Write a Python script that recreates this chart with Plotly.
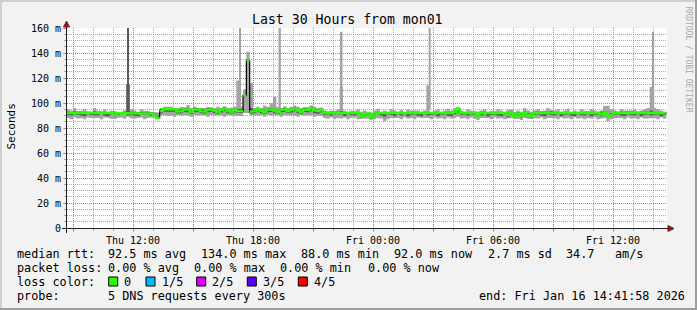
import plotly.graph_objects as go
import pandas as pd

# ---------------- data ----------------
START = "2026-01-15 08:41:58"
END = "2026-01-16 14:41:58"
STEP0 = "2026-01-15 08:40"
STEP_MIN = 10

median = [
    92, 92, 92, 91.5, 92, 92, 92, 92, 91.5, 92,
    92, 92, 92, 92, 90.5, 92, 92, 92, 92, 92,
    92, 92, 92, 92, 92, 91.5, 90, 88, 93.5, 95,
    95, 94.5, 95, 93, 93.5, 95, 94.5, 93, 94.5, 95,
    93.5, 93, 94.5, 95, 94, 93, 94.5, 95.5, 94, 93,
    94.5, 93.5, 93.5, 106, 134, 93, 93.5, 95, 94, 93,
    94.5, 95, 94, 93, 94.5, 95, 93.5, 94.5, 95.5, 94,
    93, 95, 94.5, 96, 94, 93.5, 94.5, 92, 92, 92,
    92, 92, 92, 92, 92, 92, 92, 92, 89.5, 91,
    92, 88.5, 90, 92, 92, 92, 92, 92, 92, 92,
    92, 92, 92, 92, 92, 92, 92, 92, 92, 92,
    92, 92, 92, 92, 92, 92, 93, 95, 92, 92,
    92, 92, 92, 89, 92, 92, 92, 92, 92, 92,
    92, 92, 90.5, 92, 90, 91.5, 89.5, 92, 90.5, 89.5,
    92, 92, 92, 92, 92, 92, 92, 92, 92, 92,
    92, 92, 92, 92, 92, 92, 92, 92, 92, 92,
    91, 92, 89, 90.5, 92, 92, 92, 92, 92, 92,
    92, 92, 92, 92, 92, 92, 92, 92, 92, 92,
]

ping_min = [
    88, 87, 88.5, 87.5, 88, 87, 88.5, 88, 87.5, 88,
    87, 88.5, 88, 87.5, 87, 88, 88.5, 87.5, 89, 88,
    87.5, 88, 88.5, 87, 88, 88.5, 88.5, 87.5, 90, 90.5,
    89.5, 90, 89, 90.5, 90, 89.5, 90, 89, 90.5, 90,
    89.5, 90, 89, 90.5, 90, 89.5, 90, 89, 90.5, 90,
    89.5, 90, 89.5, 92, 92, 90, 90, 89.5, 90, 89,
    90.5, 90, 89.5, 90, 89, 90.5, 90, 89.5, 90, 89,
    90.5, 90, 89.5, 90, 89, 90, 89.5, 88, 87.5, 88.5,
    87, 88, 87.5, 88.5, 87, 88, 88.5, 87, 87.5, 88,
    87.5, 86.5, 87, 88, 87.5, 85.5, 87, 88, 87.5, 88,
    87, 88.5, 87.5, 88, 87, 88.5, 88, 87.5, 88, 87,
    88.5, 87.5, 88, 87, 88.5, 87.5, 88, 89, 87.5, 88,
    87, 88.5, 87.5, 86.5, 88, 87.5, 88, 87, 88.5, 87.5,
    88, 87, 87.5, 88, 87, 87.5, 86.5, 88, 87.5, 87,
    88, 87.5, 88.5, 87, 88, 87.5, 88, 87, 88.5, 87.5,
    88, 87, 88.5, 87.5, 88, 87, 88, 87.5, 88.5, 87,
    87.5, 88, 85.5, 87, 88, 87.5, 88, 87, 88.5, 87.5,
    88, 87, 88.5, 87.5, 88, 87.5, 88, 87, 88.5, 87.5,
]

ping_lo = [
    90.5, 90, 91, 90.5, 90, 89.5, 91, 90.5, 90, 90,
    91.5, 90, 89.5, 91, 89.5, 90.5, 91, 91.5, 90, 90.5,
    90, 89.5, 91, 90.5, 91, 90, 89.5, 88, 92, 93,
    93, 92.5, 93, 91.5, 92, 93, 92.5, 91.5, 92.5, 93,
    92, 91.5, 92.5, 93, 92, 91.5, 92.5, 93.5, 92, 91.5,
    92.5, 92, 92, 105, 133, 91.5, 92, 93, 92, 91.5,
    92.5, 93, 92, 91.5, 92.5, 93, 92, 92.5, 93.5, 92,
    91.5, 93, 92.5, 93.5, 92, 91.5, 92.5, 90.5, 91, 90,
    91, 90.5, 91, 89.5, 91, 90.5, 90, 91, 88.5, 89.5,
    90.5, 87.5, 89, 91, 90, 89, 91, 90.5, 89.5, 91,
    90, 91, 89.5, 90.5, 91, 90, 89.5, 91, 90, 90.5,
    91, 89.5, 90.5, 91, 90, 89.5, 91, 92, 90.5, 91,
    90, 91, 90.5, 88, 90, 91, 89.5, 90.5, 91, 90,
    89.5, 91, 89, 90.5, 89, 90, 88.5, 90.5, 89.5, 88.5,
    90.5, 91, 90, 89.5, 91, 90.5, 90, 91, 89.5, 90.5,
    91, 90, 89.5, 91, 90.5, 90, 91, 89.5, 90.5, 91,
    89.5, 91, 88, 89.5, 90.5, 91, 90, 89.5, 91, 90.5,
    90, 91, 89.5, 90.5, 91, 90, 90.5, 91, 89.5, 90.5,
]

ping_hi = [
    93, 92.5, 93.5, 92.5, 93, 92.5, 92.5, 92.5, 93.5, 92.5,
    92.5, 93, 92.5, 92.5, 92, 92.5, 92.5, 93, 115, 93,
    92.5, 92.5, 93, 92.5, 92.5, 92.5, 91.5, 90, 95, 96,
    96, 95.5, 96, 94.5, 95, 96, 95.5, 94.5, 95.5, 96,
    95, 94.5, 95.5, 96, 95, 94.5, 95.5, 96.5, 95, 94.5,
    95.5, 95, 95, 107, 135, 96, 94.5, 96, 95, 94.5,
    95.5, 96, 95, 94.5, 95.5, 96, 94.5, 95.5, 96.5, 95,
    94.5, 96, 95.5, 97, 95, 94.5, 95.5, 93, 92.5, 93,
    92.5, 93, 93.5, 92.5, 93, 92.5, 93, 92.5, 91, 92,
    92.5, 90, 91.5, 92.5, 93, 92.5, 93, 92.5, 93, 92.5,
    93, 92.5, 92.5, 93, 92.5, 93, 92.5, 92.5, 93, 92.5,
    93, 92.5, 93, 92.5, 93, 92.5, 94, 96, 93, 92.5,
    92.5, 93, 92.5, 90.5, 93, 92.5, 93, 92.5, 93, 92.5,
    93, 92.5, 92, 93, 91.5, 92.5, 91, 93, 92, 91,
    93, 92.5, 93, 92.5, 93, 93.5, 92.5, 93, 92.5, 93,
    93, 92.5, 93, 92.5, 93, 92.5, 93, 92.5, 93, 92.5,
    92.5, 93, 90.5, 92, 93, 92.5, 93, 92.5, 93, 92.5,
    93, 92.5, 93, 92.5, 93, 94, 93, 92.5, 93, 92.5,
]

ping_max = [
    95, 94, 96, 93.5, 94, 95, 93.5, 93, 96, 94,
    93.5, 95, 93, 94, 93.5, 92.5, 93, 94, 115, 95,
    94, 93, 95, 94, 93.5, 93, 93, 92.5, 96, 97,
    96.5, 97, 96, 96, 97, 96.5, 98.5, 96, 97, 96,
    96.5, 96, 97, 96.5, 96, 97, 96, 97.5, 96, 96.5,
    97, 118, 97, 111, 141, 116, 96, 97, 96, 98,
    97, 100, 105, 97, 96, 97.5, 96, 97, 98, 97,
    96, 97, 96.5, 98, 97, 96, 96.5, 94, 93, 94,
    93.5, 95, 113, 94, 93, 94, 93.5, 95, 93, 94,
    93, 92.5, 94, 95.5, 93, 94, 93, 95, 94, 93,
    94.5, 93, 95, 94, 93.5, 94, 93, 94, 114, 93,
    94, 95, 93, 94, 95.5, 94, 96, 97, 94, 93,
    95, 94, 93.5, 93, 94, 95, 93, 94, 93.5, 95,
    94, 93, 94.5, 95, 93, 94, 93, 96, 94, 93,
    94, 95, 93.5, 94, 96, 94.5, 94, 95, 93, 94,
    95.5, 93, 94, 93, 95, 94, 93.5, 95, 94, 93,
    94, 97.5, 98, 95, 94, 93, 95, 94, 93.5, 94,
    95, 93, 94, 95, 96, 113, 96, 95, 94, 93,
]

spike_time = ["2026-01-15 11:46", "2026-01-15 17:21", "2026-01-15 19:20",
              "2026-01-15 22:26", "2026-01-16 02:50", "2026-01-16 14:01"]
spike_top = [165, 165, 165, 157, 165, 157]
spike_base = [95, 95, 95, 95, 95, 95]
spike_color = ["#585858", "#a4a4a4", "#a4a4a4", "#a4a4a4", "#a4a4a4", "#a4a4a4"]
spike_minutes = [3, 6, 7, 5, 6, 5]

y_tickvals = [0, 20, 40, 60, 80, 100, 120, 140, 160]
y_ticktext = ["0", "20 m", "40 m", "60 m", "80 m", "100 m", "120 m", "140 m", "160 m"]
x_tickvals = ["2026-01-15 09:00", "2026-01-15 12:00", "2026-01-15 15:00", "2026-01-15 18:00",
              "2026-01-15 21:00", "2026-01-16 00:00", "2026-01-16 03:00", "2026-01-16 06:00",
              "2026-01-16 09:00", "2026-01-16 12:00"]
x_ticktext = ["", "Thu 12:00", "", "Thu 18:00", "", "Fri 00:00", "", "Fri 06:00", "", "Fri 12:00"]

title_text = "Last 30 Hours from mon01"
ytitle_text = "Seconds"
watermark_text = "RRDTOOL / TOBI OETIKER"

legend_rows = [
    [("median rtt:", 16.3), ("92.5 ms avg", 107.3), ("134.0 ms max", 200.0), ("88.0 ms min", 300.0),
     ("92.0 ms now", 393.3), ("2.7 ms sd", 486.7), ("34.7", 564.5), ("am/s", 614.0)],
    [("packet loss:", 16.3), ("0.00 % avg", 107.3), ("0.00 % max", 193.3), ("0.00 % min", 279.3),
     ("0.00 % now", 366.7)],
    [("loss color:", 16.3)],
    [("probe:", 16.3), ("5 DNS requests every 300s", 107.3), ("end: Fri Jan 16 14:41:58 2026", 478.3)],
]
legend_row_y = [254.3, 268.3, 281.7, 296.0]
loss_labels = ["0", "1/5", "2/5", "3/5", "4/5"]
loss_colors = ["#26ff00", "#00b8ff", "#dd00ff", "#5e00ff", "#ff0000"]
loss_box_x = [108.7, 146.0, 196.7, 247.3, 298.3]
loss_label_x = [123.3, 160.7, 211.0, 262.0, 312.7]

# ---------------- styling ----------------
W, H = 697, 310
PL, PR, PT, PB = 67, 667, 28, 228
GRID = "rgba(143,143,143,0.75)"
MGRID = "rgba(222,79,79,0.6)"
FONT = "DejaVu Sans Mono"


def px(x):
    return (x - PL) / (PR - PL)


def py(y):
    return (PB - y) / (PB - PT)


n = len(median)
t0 = pd.Timestamp(STEP0)
step_start = [t0 + pd.Timedelta(minutes=STEP_MIN * i) for i in range(n)]
step_end = [s + pd.Timedelta(minutes=STEP_MIN) for s in step_start]


def band(lo, hi):
    xs, ys = [], []
    for i in range(n):
        xs += [step_start[i], step_end[i]]
        ys += [hi[i], hi[i]]
    for i in reversed(range(n)):
        xs += [step_end[i], step_start[i]]
        ys += [lo[i], lo[i]]
    return xs, ys


fig = go.Figure()

bx, by = band(ping_min, ping_max)
fig.add_trace(go.Scatter(x=bx, y=by, mode="lines", fill="toself", fillcolor="#a4a4a4",
                         line=dict(width=0), hoverinfo="skip"))
bx, by = band(ping_lo, ping_hi)
fig.add_trace(go.Scatter(x=bx, y=by, mode="lines", fill="toself", fillcolor="#585858",
                         line=dict(width=0), hoverinfo="skip"))

fig.add_trace(go.Bar(x=spike_time, y=[t - b for t, b in zip(spike_top, spike_base)], base=spike_base,
                     width=[m * 60000 for m in spike_minutes],
                     marker=dict(color=spike_color, line=dict(width=0)), hoverinfo="skip"))

# median: black thin line (shows on big jumps) + green segments
kx, ky = [], []
for i in range(n):
    kx += [step_start[i], step_end[i]]
    ky += [median[i], median[i]]
fig.add_trace(go.Scatter(x=kx, y=ky, mode="lines", line=dict(color="#000000", width=1.2),
                         hoverinfo="skip"))
gx, gy = [], []
for i in range(n):
    if i > 0 and abs(median[i] - median[i - 1]) > 4:
        gx.append(None)
        gy.append(None)
    gx += [step_start[i], step_end[i]]
    gy += [median[i], median[i]]
fig.add_trace(go.Scatter(x=gx, y=gy, mode="lines", line=dict(color=loss_colors[0], width=2.4),
                         connectgaps=False, hoverinfo="skip"))

fig.update_layout(
    width=W, height=H, autosize=False,
    margin=dict(l=PL, r=W - PR, t=PT, b=H - PB, pad=0),
    paper_bgcolor="#f2f2f2", plot_bgcolor="#ffffff",
    showlegend=False, barmode="overlay",
    font=dict(family=FONT, size=10, color="#000000"),
)
fig.update_xaxes(
    type="date", range=[START, END],
    tickmode="array", tickvals=x_tickvals, ticktext=x_ticktext,
    showgrid=True, gridcolor=MGRID, griddash="1px,1px", gridwidth=1,
    ticks="outside", ticklen=3, tickcolor=MGRID,
    minor=dict(dtick=3600000, tick0="2026-01-15 00:00", showgrid=True, gridcolor=GRID,
               griddash="1px,1px", ticks="outside", ticklen=2, tickcolor=GRID),
    showline=True, linecolor="#1f1f1f", linewidth=1, zeroline=False,
    tickfont=dict(family=FONT, size=10, color="#000"),
)
fig.update_yaxes(
    range=[0, 160], tickmode="array", tickvals=y_tickvals, ticktext=y_ticktext,
    showgrid=True, gridcolor=MGRID, griddash="1px,1px", gridwidth=1,
    ticks="outside", ticklen=3, tickcolor=MGRID,
    minor=dict(dtick=5, tick0=0, showgrid=True, gridcolor=GRID, griddash="1px,1px",
               ticks="outside", ticklen=2, tickcolor=GRID),
    showline=True, linecolor="#1f1f1f", linewidth=1, zeroline=False,
    tickfont=dict(family=FONT, size=10, color="#000"),
)

shapes = []
# frame
shapes.append(dict(type="rect", xref="paper", yref="paper", x0=px(0), x1=px(W), y0=py(0), y1=py(2),
                   fillcolor="#cfcfcf", line=dict(width=0), layer="above"))
shapes.append(dict(type="rect", xref="paper", yref="paper", x0=px(0), x1=px(2), y0=py(0), y1=py(H),
                   fillcolor="#cfcfcf", line=dict(width=0), layer="above"))
shapes.append(dict(type="rect", xref="paper", yref="paper", x0=px(0), x1=px(W), y0=py(H - 2), y1=py(H),
                   fillcolor="#9e9e9e", line=dict(width=0), layer="above"))
shapes.append(dict(type="rect", xref="paper", yref="paper", x0=px(W - 2), x1=px(W), y0=py(0), y1=py(H),
                   fillcolor="#9e9e9e", line=dict(width=0), layer="above"))
# axis extensions
shapes.append(dict(type="line", xref="paper", yref="paper", x0=px(62), x1=px(671), y0=py(228.5), y1=py(228.5),
                   line=dict(color="#1f1f1f", width=1), layer="above"))
shapes.append(dict(type="line", xref="paper", yref="paper", x0=px(66.5), x1=px(66.5), y0=py(233), y1=py(25),
                   line=dict(color="#1f1f1f", width=1), layer="above"))
# arrows
shapes.append(dict(type="path", xref="paper", yref="paper",
                   path=f"M {px(66.5)},{py(21)} L {px(63.5)},{py(27)} L {px(69.5)},{py(27)} Z",
                   fillcolor="#801f1f", line=dict(color="#801f1f", width=1), layer="above"))
shapes.append(dict(type="path", xref="paper", yref="paper",
                   path=f"M {px(674)},{py(228.5)} L {px(668)},{py(225.5)} L {px(668)},{py(231.5)} Z",
                   fillcolor="#801f1f", line=dict(color="#801f1f", width=1), layer="above"))
# loss colour boxes
for bxp, col in zip(loss_box_x, loss_colors):
    shapes.append(dict(type="rect", xref="paper", yref="paper", x0=px(bxp), x1=px(bxp + 9),
                       y0=py(277), y1=py(286), fillcolor=col, line=dict(color="#000", width=1)))

ann = []
ann.append(dict(text=title_text, x=px(347.5), y=py(19), xref="paper", yref="paper", showarrow=False,
                xanchor="center", yanchor="middle", font=dict(family=FONT, size=13.2, color="#000")))
ann.append(dict(text=ytitle_text, x=px(10.5), y=py(127), xref="paper", yref="paper", showarrow=False,
                textangle=-90, xanchor="center", yanchor="middle",
                font=dict(family=FONT, size=11, color="#000")))
ann.append(dict(text=watermark_text, x=px(688.5), y=py(59), xref="paper", yref="paper", showarrow=False,
                textangle=90, xanchor="center", yanchor="middle",
                font=dict(family=FONT, size=8, color="#a8a8a8")))
for row, yy in zip(legend_rows, legend_row_y):
    for txt, xx in row:
        ann.append(dict(text=txt, x=px(xx), y=py(yy), xref="paper", yref="paper", showarrow=False,
                        xanchor="left", yanchor="middle", borderpad=0,
                        font=dict(family=FONT, size=11.8, color="#000")))
for lab, xx in zip(loss_labels, loss_label_x):
    ann.append(dict(text=lab, x=px(xx), y=py(legend_row_y[2]), xref="paper", yref="paper", showarrow=False,
                    xanchor="left", yanchor="middle", borderpad=0,
                    font=dict(family=FONT, size=11.8, color="#000")))

fig.update_layout(shapes=shapes, annotations=ann)
fig.write_html("out.html")
